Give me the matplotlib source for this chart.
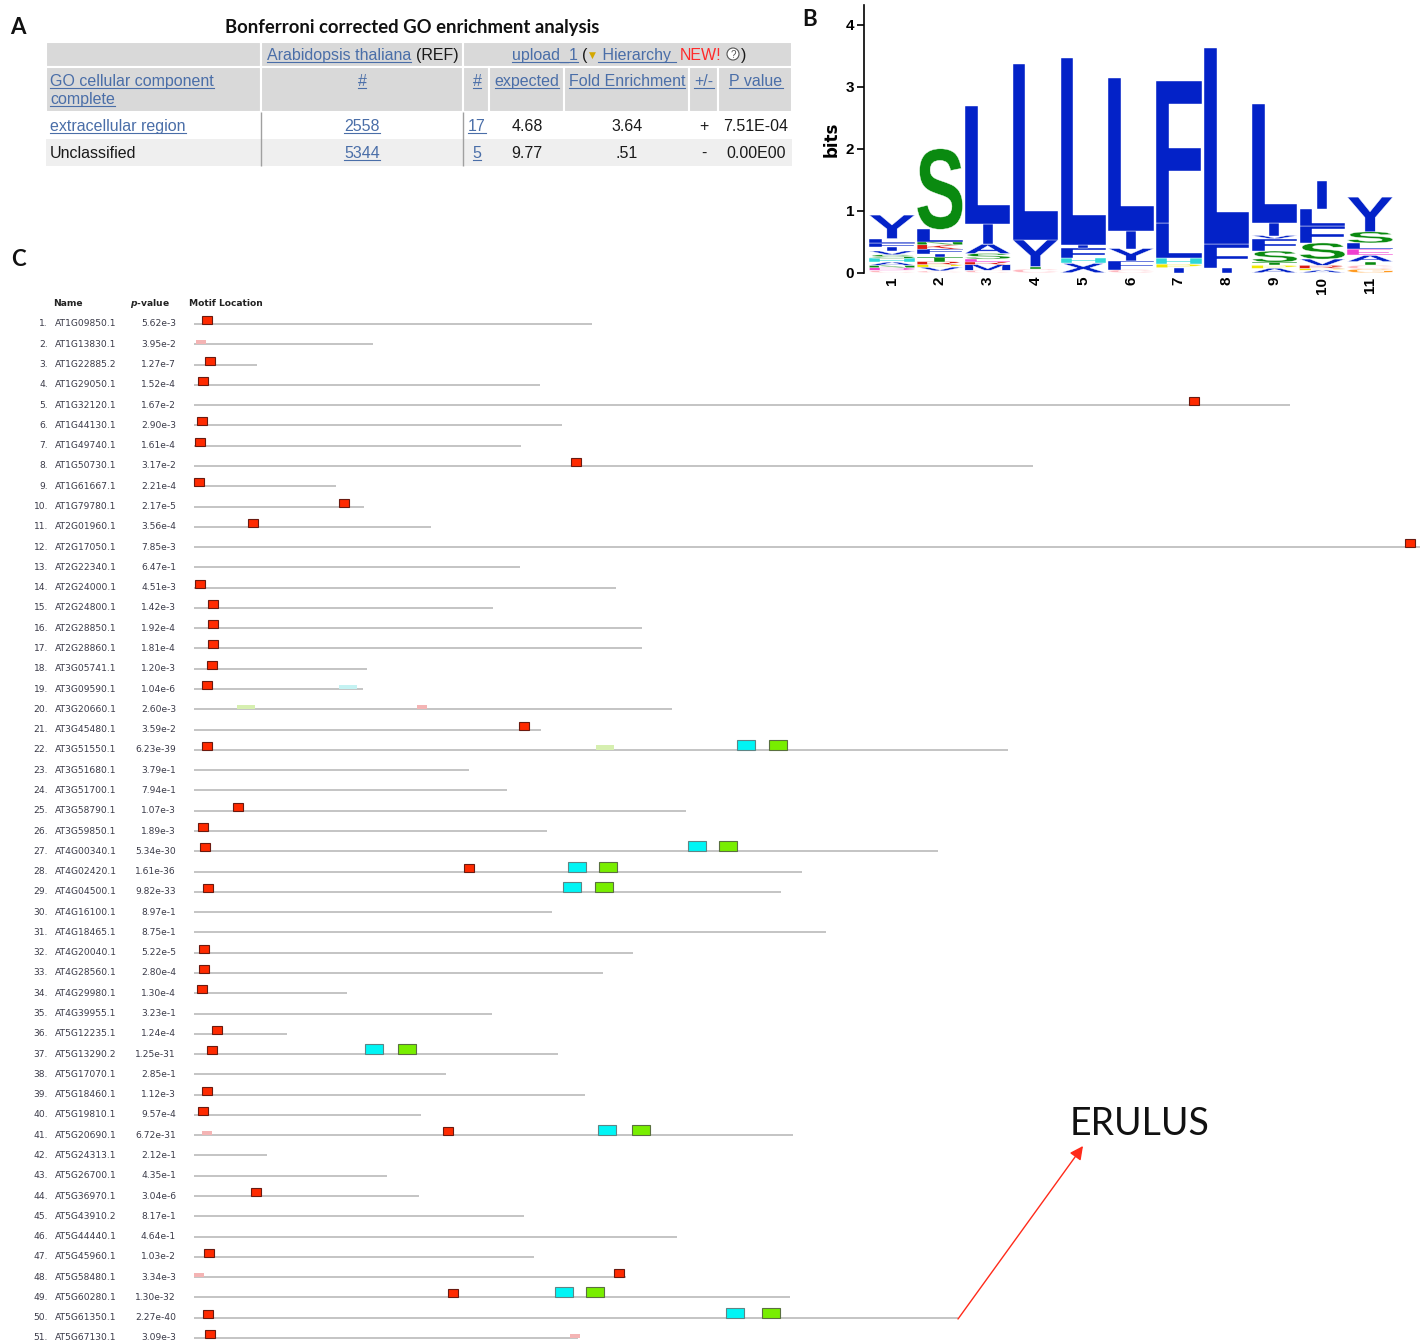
import matplotlib
matplotlib.use('Agg')
import matplotlib.pyplot as plt
from matplotlib.patches import Rectangle, PathPatch, Circle
from matplotlib.textpath import TextPath
from matplotlib.font_manager import FontProperties
from matplotlib.transforms import Affine2D

# ---------------- data ----------------
# A: GO enrichment table
go_terms = ['extracellular region', 'Unclassified']
ref_counts = ['2558', '5344']
upload_counts = ['17', '5']
expected = ['4.68', '9.77']
fold_enrichment = ['3.64', '.51']
over_under = ['+', '-']
go_pvalues = ['7.51E-04', '0.00E00']

# B: sequence logo, letters bottom -> top with their heights (bits)
logo_letters = ['CDNAHSVIFLY', 'CVPRTIFKNLS', 'CMRESAIL', 'CTYL', 'XHFIL', 'CFYIL',
                'IPHLF', 'IFL', 'APTSFVIL', 'APRVSFLI', 'GCTAELSY']
logo_heights = [
    [.04, .04, .04, .05, .06, .06, .06, .06, .07, .07, .38],
    [.03, .06, .04, .05, .07, .05, .08, .07, .05, .20, 1.30],
    [.04, .09, .05, .04, .09, .15, .32, 1.91],
    [.06, .04, .43, 2.84],
    [.15, .08, .17, .05, 3.02],
    [.05, .14, .20, .28, 2.48],
    [.08, .06, .09, .57, 2.30],
    [.07, .39, 3.17],
    [.07, .05, .05, .18, .20, .05, .20, 1.93],
    [.04, .03, .05, .10, .26, .27, .28, .45],
    [.06, .06, .06, .10, .10, .10, .18, .56],
]

# C: motif locations
gene_names = ['AT1G09850.1', 'AT1G13830.1', 'AT1G22885.2', 'AT1G29050.1', 'AT1G32120.1',
              'AT1G44130.1', 'AT1G49740.1', 'AT1G50730.1', 'AT1G61667.1', 'AT1G79780.1',
              'AT2G01960.1', 'AT2G17050.1', 'AT2G22340.1', 'AT2G24000.1', 'AT2G24800.1',
              'AT2G28850.1', 'AT2G28860.1', 'AT3G05741.1', 'AT3G09590.1', 'AT3G20660.1',
              'AT3G45480.1', 'AT3G51550.1', 'AT3G51680.1', 'AT3G51700.1', 'AT3G58790.1',
              'AT3G59850.1', 'AT4G00340.1', 'AT4G02420.1', 'AT4G04500.1', 'AT4G16100.1',
              'AT4G18465.1', 'AT4G20040.1', 'AT4G28560.1', 'AT4G29980.1', 'AT4G39955.1',
              'AT5G12235.1', 'AT5G13290.2', 'AT5G17070.1', 'AT5G18460.1', 'AT5G19810.1',
              'AT5G20690.1', 'AT5G24313.1', 'AT5G26700.1', 'AT5G36970.1', 'AT5G43910.2',
              'AT5G44440.1', 'AT5G45960.1', 'AT5G58480.1', 'AT5G60280.1', 'AT5G61350.1',
              'AT5G67130.1']
gene_pvalues = ['5.62e-3', '3.95e-2', '1.27e-7', '1.52e-4', '1.67e-2', '2.90e-3', '1.61e-4',
                '3.17e-2', '2.21e-4', '2.17e-5', '3.56e-4', '7.85e-3', '6.47e-1', '4.51e-3',
                '1.42e-3', '1.92e-4', '1.81e-4', '1.20e-3', '1.04e-6', '2.60e-3', '3.59e-2',
                '6.23e-39', '3.79e-1', '7.94e-1', '1.07e-3', '1.89e-3', '5.34e-30', '1.61e-36',
                '9.82e-33', '8.97e-1', '8.75e-1', '5.22e-5', '2.80e-4', '1.30e-4', '3.23e-1',
                '1.24e-4', '1.25e-31', '2.85e-1', '1.12e-3', '9.57e-4', '6.72e-31', '2.12e-1',
                '4.35e-1', '3.04e-6', '8.17e-1', '4.64e-1', '1.03e-2', '3.34e-3', '1.30e-32',
                '2.27e-40', '3.09e-3']
seq_lengths = [398, 179, 63, 346, 1096, 368, 327, 839, 142, 170, 237, 1226, 326, 422, 299,
               448, 448, 173, 169, 478, 347, 814, 275, 313, 492, 353, 744, 608, 587, 358,
               632, 439, 409, 153, 298, 93, 364, 252, 391, 227, 599, 73, 193, 225, 330,
               483, 340, 432, 596, 764, 384]

# motif sites: row, start, motif id, weak site?
site_row = [1, 2, 3, 4, 5, 6, 7, 8, 9, 10, 11, 12, 14, 15, 16, 17, 18, 19, 19, 20, 20, 21,
            22, 22, 22, 22, 25, 26, 27, 27, 27, 28, 28, 28, 29, 29, 29, 32, 33, 34, 36,
            37, 37, 37, 39, 40, 41, 41, 41, 41, 44, 47, 48, 48, 49, 49, 49, 50, 50, 50, 51, 51]
site_start = [8, 2, 11, 4, 995, 3, 1, 377, 0, 145, 54, 1211, 1, 14, 14, 14, 13, 8, 145, 43, 223, 325,
              8, 402, 543, 575, 39, 4, 6, 494, 525, 270, 374, 405, 9, 369, 401, 5, 5, 3, 18,
              13, 171, 204, 8, 4, 8, 249, 404, 438, 57, 10, 0, 420, 254, 361, 392, 9, 532, 568, 11, 376]
site_motif = [1, 1, 1, 1, 1, 1, 1, 1, 1, 1, 1, 1, 1, 1, 1, 1, 1, 1, 2, 3, 1, 1,
              1, 3, 2, 3, 1, 1, 1, 2, 3, 1, 2, 3, 1, 2, 3, 1, 1, 1, 1,
              1, 2, 3, 1, 1, 1, 1, 2, 3, 1, 1, 1, 1, 1, 2, 3, 1, 2, 3, 1, 1]
site_weak = [0, 1, 0, 0, 0, 0, 0, 0, 0, 0, 0, 0, 0, 0, 0, 0, 0, 0, 1, 1, 1, 0,
             0, 1, 0, 0, 0, 0, 0, 0, 0, 0, 0, 0, 0, 0, 0, 0, 0, 0, 0,
             0, 0, 0, 0, 0, 1, 0, 0, 0, 0, 0, 1, 0, 0, 0, 0, 0, 0, 0, 0, 1]

# ---------------- figure ----------------
W, H = 1423, 1344
fig = plt.figure(figsize=(W / 100, H / 100), dpi=100)


def px_rect(x0, y0, x1, y1):
    return [x0 / W, 1 - y1 / H, (x1 - x0) / W, (y1 - y0) / H]


LINK = '#4a6ea8'
TXT = '#1a1a1a'

# ---- panel C (row based axes over the whole figure) ----
ROW0, ROWSTEP, X0 = 324, 20.28, 194
ax_c = fig.add_axes([0, 0, 1, 1])
ax_c.set_xlim(-X0, W - X0)
ax_c.set_ylim(1 + (H - ROW0) / ROWSTEP, 1 - ROW0 / ROWSTEP)
ax_c.axis('off')

rows = list(range(1, len(gene_names) + 1))
ax_c.hlines(rows, 0, seq_lengths, color='#c4c4c4', lw=1.4, zorder=1)

lab = dict(fontsize=6.6, family='DejaVu Sans', color='#3a3a48', va='center')
for r, name, pv in zip(rows, gene_names, gene_pvalues):
    ax_c.text(48 - X0, r, f'{r}.', ha='right', **lab)
    ax_c.text(55 - X0, r, name, ha='left', **lab)
    ax_c.text(176 - X0, r, pv, ha='right', **lab)
hdr_kw = dict(fontsize=6.6, family='DejaVu Sans', color='#222222', va='center', fontweight='bold')
ax_c.text(53 - X0, 0, 'Name', ha='left', **hdr_kw)
ax_c.text(170 - X0, 0, r'$\mathbfit{p}$-value', ha='right', **hdr_kw)
ax_c.text(189 - X0, 0, 'Motif Location', ha='left', **hdr_kw)

motif_w = {1: 10, 2: 18, 3: 18}
motif_h = {1: 8, 2: 10, 3: 10}
strong_fc = {1: '#ff2a00', 2: '#00f5f5', 3: '#78ee00'}
strong_ec = {1: '#6a1a10', 2: '#5f8585', 3: '#5a7040'}
weak_fc = {1: '#f4b4b4', 2: '#c4f2f2', 3: '#d6efb0'}
for r, s, m, wk in zip(site_row, site_start, site_motif, site_weak):
    if wk:
        h = 4.5 / ROWSTEP
        ax_c.add_patch(Rectangle((s, r - h), motif_w[m], h, fc=weak_fc[m], ec='none', zorder=3))
    else:
        h = motif_h[m] / ROWSTEP
        ax_c.add_patch(Rectangle((s, r - h), motif_w[m], h, fc=strong_fc[m],
                                 ec=strong_ec[m], lw=0.8, zorder=3))

# ---- overlay in pixel coordinates (panel A, letters, annotation) ----
ov = fig.add_axes([0, 0, 1, 1])
ov.set_xlim(0, W)
ov.set_ylim(H, 0)
ov.axis('off')

ov.text(412, 27, 'Bonferroni corrected GO enrichment analysis', ha='center', va='center',
        fontsize=13.3, fontweight='bold', family='Lato', color='#111111')
for x, y, s in [(18, 27, 'A'), (810, 20, 'B'), (18, 260, 'C')]:
    ov.text(x, y, s, ha='center', va='center', fontsize=16, fontweight='bold',
            family='Lato', color='#111111')

hdr_bg = '#d9d9d9'
for xa, xb in [(46, 261), (261, 463), (463, 792)]:
    ov.add_patch(Rectangle((xa, 42), xb - xa, 25, fc=hdr_bg, ec='white', lw=1.5))
col_edges = [46, 261, 463, 489, 564, 689, 718, 792]
for xa, xb in zip(col_edges[:-1], col_edges[1:]):
    ov.add_patch(Rectangle((xa, 67), xb - xa, 45, fc=hdr_bg, ec='white', lw=1.5))
ov.add_patch(Rectangle((46, 139), 746, 27, fc='#efefef', ec='none'))
ov.vlines([261, 463], 112, 166, color='#a0a0a0', lw=1)

links = []


def put(x, y, s, ha='center', link=False, color=TXT, size=11.5):
    t = ov.text(x, y, s, ha=ha, va='baseline', fontsize=size, family='Liberation Sans',
                color=LINK if link else color)
    if link:
        links.append(t)
    return t


put(267, 60, 'Arabidopsis thaliana', ha='left', link=True)
put(416, 60, '(REF)', ha='left')
put(512, 60, 'upload_1', ha='left', link=True)
put(582, 60, '(', ha='left')
ov.text(592, 55, '\u25bc', ha='center', va='center', fontsize=6.5, family='DejaVu Sans',
        color='#d4a800')
put(598, 60, ' Hierarchy ', ha='left', link=True)
put(680, 60, 'NEW!', ha='left', color='#ff2a2a')
ov.add_patch(Circle((733, 54), 6, fc='white', ec='#555555', lw=0.8))
ov.text(733, 54.5, '?', ha='center', va='center', fontsize=7, family='Liberation Sans',
        color='#555555')
put(741, 60, ')', ha='left')

put(50, 86, 'GO cellular component', ha='left', link=True)
put(50, 104, 'complete', ha='left', link=True)
put(362, 86, '#', link=True)
header_cols = [477, 527, 627, 704, 756]
for x, s in zip(header_cols, ['#', 'expected', 'Fold Enrichment', '+/-', 'P value']):
    put(x, 86, s, link=True)

for i, base in enumerate([131, 158]):
    put(50, base, go_terms[i], ha='left', link=(i == 0))
    put(362, base, ref_counts[i], link=True)
    put(477, base, upload_counts[i], link=True)
    put(527, base, expected[i])
    put(627, base, fold_enrichment[i])
    put(704, base, over_under[i])
    put(756, base, go_pvalues[i])

# ERULUS annotation
ov.text(1070, 1124, 'ERULUS', ha='left', va='center', fontsize=27, family='Lato', color='#111111')
ov.annotate('', xy=(1083, 1146), xytext=(958, 1319),
            arrowprops=dict(arrowstyle='-|>', color='#ff2a1a', lw=1.0, mutation_scale=20,
                            shrinkA=0, shrinkB=0))

# ---- panel B: sequence logo ----
ax_b = fig.add_axes(px_rect(864, 5, 1394, 272.7))
ax_b.set_facecolor('none')
ax_b.set_xlim(0.414, 11.5)
ax_b.set_ylim(0, 4.32)

letter_color = {}
for ch in 'AFILMVWYX':
    letter_color[ch] = '#0322c8'
for ch in 'STNQ':
    letter_color[ch] = '#0a8a10'
for ch in 'KR':
    letter_color[ch] = '#dd1a10'
for ch in 'DE':
    letter_color[ch] = '#f040d0'
letter_color['G'] = '#ff9a20'
letter_color['P'] = '#f0e800'
letter_color['H'] = '#30d8d8'
letter_color['C'] = '#ffb8c0'

fp = FontProperties(family='Liberation Sans', weight='bold')
col_w = 0.95
for pos, (letters, heights) in enumerate(zip(logo_letters, logo_heights), start=1):
    y = 0.0
    for ch, h in zip(letters, heights):
        tp = TextPath((0, 0), ch, size=1, prop=fp)
        bb = tp.get_extents()
        w = col_w * 0.22 if ch == 'I' else col_w
        tr = (Affine2D().translate(-bb.x0, -bb.y0)
              .scale(w / bb.width, h / bb.height)
              .translate(pos - w / 2, y))
        ax_b.add_patch(PathPatch(tr.transform_path(tp), fc=letter_color[ch], ec='white', lw=0.3))
        y += h

for sp in ['top', 'right', 'bottom']:
    ax_b.spines[sp].set_visible(False)
ax_b.spines['left'].set_linewidth(1.2)
ax_b.set_yticks([0, 1, 2, 3, 4])
ax_b.set_xticks(range(1, 12))
ax_b.set_xticklabels([str(i) for i in range(1, 12)], rotation=90, va='top')
ax_b.tick_params(axis='x', length=0, pad=3)
ax_b.tick_params(axis='y', length=5, width=1.2, pad=2)
for t in ax_b.get_xticklabels() + ax_b.get_yticklabels():
    t.set_fontweight('bold')
    t.set_fontsize(11)
    t.set_family(['Liberation Sans Narrow', 'Liberation Sans'])
ax_b.set_ylabel('bits', fontsize=12, fontweight='bold', labelpad=4)

# underline link texts
fig.canvas.draw()
rend = fig.canvas.get_renderer()
for t in links:
    bb = t.get_window_extent(rend)
    yb = t.get_position()[1] + 2.2
    ov.plot([bb.x0, bb.x1], [yb, yb], color=LINK, lw=0.8)

fig.savefig('out.png', dpi=100)
